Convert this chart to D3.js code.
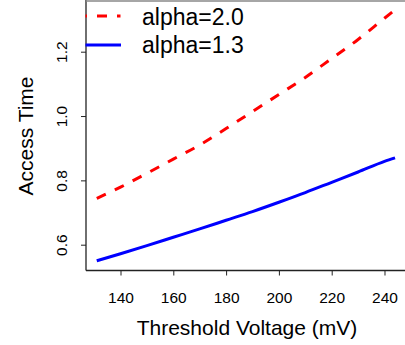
<!DOCTYPE html>
<html>
<head>
<meta charset="utf-8">
<script src="https://cdn.jsdelivr.net/npm/d3@7"></script>
<style>
  html, body { margin: 0; padding: 0; background: #fff; }
  svg text { font-family: "Liberation Sans", Arial, sans-serif; fill: #000; }
</style>
</head>
<body>
<div id="chart"></div>
<script>
// threshold voltage (mV)
const voltage = [131, 140, 150, 160, 170, 180, 190, 200, 210, 220, 230, 240, 244];
// access time for each alpha
const alpha20 = [0.744, 0.779, 0.822, 0.866, 0.910, 0.961, 1.014, 1.067, 1.120, 1.179, 1.238, 1.304, 1.330];
const alpha13 = [0.550, 0.572, 0.597, 0.623, 0.649, 0.676, 0.703, 0.732, 0.762, 0.794, 0.826, 0.859, 0.870];
const xTicks = [140, 160, 180, 200, 220, 240];
const yTicks = [0.6, 0.8, 1.0, 1.2];
const legendLabels = ['alpha=2.0', 'alpha=1.3'];

const width = 405;
const height = 345;

const svg = d3.select('#chart')
  .append('svg')
  .attr('width', width)
  .attr('height', height);

const xScale = d3.scaleLinear()
  .domain([126.93, 247.77])
  .range([86, 405]);

const yScale = d3.scaleLinear()
  .domain([0.5198, 1.3576])
  .range([270.5, 1]);

// x axis
const xAxis = d3.axisBottom(xScale)
  .tickValues(xTicks)
  .tickSize(5)
  .tickPadding(0)
  .tickFormat(d3.format('d'));

const gx = svg.append('g')
  .attr('transform', 'translate(0, 270.5)')
  .call(xAxis);
gx.select('.domain').remove();
gx.selectAll('.tick line').attr('stroke', '#222');
gx.selectAll('.tick text')
  .attr('dy', null)
  .attr('y', 32)
  .style('font-size', '15.5px');

// y axis
const yAxis = d3.axisLeft(yScale)
  .tickValues(yTicks)
  .tickSize(5)
  .tickFormat(d3.format('.1f'));

const gy = svg.append('g')
  .attr('transform', 'translate(86, 0)')
  .call(yAxis);
gy.select('.domain').remove();
gy.selectAll('.tick line').attr('stroke', '#222');
gy.selectAll('.tick text')
  .attr('x', null)
  .attr('dy', null)
  .attr('text-anchor', 'middle')
  .attr('transform', 'translate(-19.5, 0) rotate(-90)')
  .style('font-size', '15.5px');

// L-shaped frame
svg.append('line')
  .attr('x1', 86).attr('x2', 86)
  .attr('y1', 0).attr('y2', 270.5)
  .attr('stroke', '#222').attr('stroke-width', 1.3);
svg.append('line')
  .attr('x1', 86).attr('x2', 405)
  .attr('y1', 270.5).attr('y2', 270.5)
  .attr('stroke', '#222').attr('stroke-width', 1.3);

// legend box top edge
svg.append('line')
  .attr('x1', 86).attr('x2', 405)
  .attr('y1', 1).attr('y2', 1)
  .attr('stroke', '#888').attr('stroke-width', 1.5);

// titles
svg.append('text')
  .attr('x', 247)
  .attr('y', 334.5)
  .attr('text-anchor', 'middle')
  .style('font-size', '21px')
  .text('Threshold Voltage (mV)');

svg.append('text')
  .attr('transform', 'translate(33, 136) rotate(-90)')
  .attr('text-anchor', 'middle')
  .style('font-size', '21px')
  .text('Access Time');

// series
const line = (vals) => d3.line()
  .x((d, i) => xScale(voltage[i]))
  .y(d => yScale(d))
  .curve(d3.curveMonotoneX)(vals);

svg.append('path')
  .attr('d', line(alpha20))
  .attr('fill', 'none')
  .attr('stroke', '#ff0000')
  .attr('stroke-width', 3)
  .attr('stroke-dasharray', '10,10');

svg.append('path')
  .attr('d', line(alpha13))
  .attr('fill', 'none')
  .attr('stroke', '#0000ff')
  .attr('stroke-width', 3);

// legend
svg.append('clipPath')
  .attr('id', 'legclip')
  .append('rect')
  .attr('x', 85.5).attr('y', 0)
  .attr('width', 320).attr('height', 80);

const leg = svg.append('g').attr('clip-path', 'url(#legclip)');
leg.append('line')
  .attr('x1', 77).attr('x2', 120.5)
  .attr('y1', 16).attr('y2', 16)
  .attr('stroke', '#ff0000').attr('stroke-width', 3)
  .attr('stroke-dasharray', '10,10');
leg.append('line')
  .attr('x1', 77).attr('x2', 121)
  .attr('y1', 45).attr('y2', 45)
  .attr('stroke', '#0000ff').attr('stroke-width', 3);

svg.selectAll('.legtext')
  .data(legendLabels)
  .enter()
  .append('text')
  .attr('class', 'legtext')
  .attr('x', 142)
  .attr('y', (d, i) => 25 + i * 28.3)
  .style('font-size', '23px')
  .text(d => d);
</script>
</body>
</html>
